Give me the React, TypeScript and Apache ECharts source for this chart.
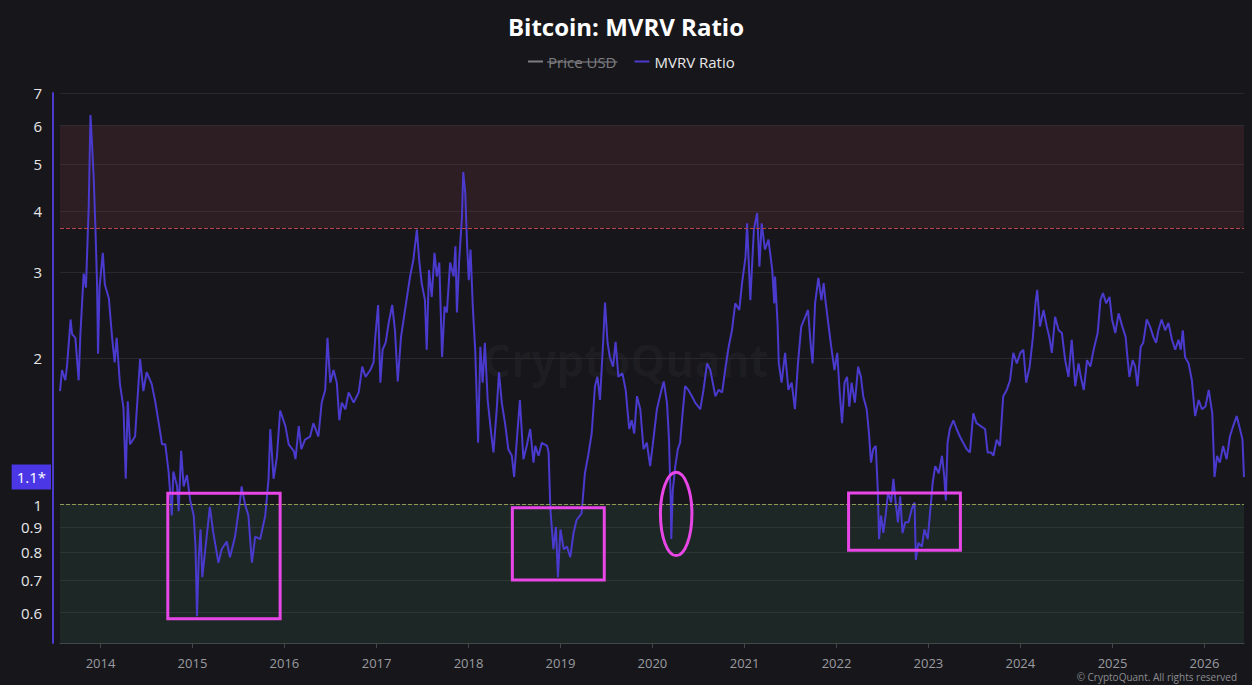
import { useEffect, useRef } from 'react';
import * as echarts from 'echarts';

type Point = [string, number];

// MVRV ratio, sampled roughly every two weeks, grouped by market cycle
const cycle2013: Point[] = [
  ['2013-07-24', 1.71], ['2013-08-01', 1.89], ['2013-08-14', 1.80], ['2013-08-21', 1.93],
  ['2013-09-04', 2.40], ['2013-09-10', 2.24], ['2013-09-23', 2.20], ['2013-10-06', 1.80],
  ['2013-10-13', 2.24], ['2013-10-26', 2.98], ['2013-11-04', 2.79], ['2013-11-15', 4.09],
  ['2013-11-22', 6.31], ['2013-11-28', 5.53], ['2013-12-05', 4.67], ['2013-12-12', 3.64],
  ['2013-12-18', 2.85], ['2013-12-22', 2.04], ['2013-12-28', 2.79], ['2014-01-10', 3.29],
  ['2014-01-18', 2.83], ['2014-02-03', 2.65], ['2014-02-16', 2.20], ['2014-02-26', 1.96],
  ['2014-03-06', 2.20], ['2014-03-19', 1.77], ['2014-04-02', 1.58], ['2014-04-11', 1.13],
  ['2014-04-19', 1.63], ['2014-04-28', 1.33], ['2014-05-18', 1.38], ['2014-06-07', 1.99],
  ['2014-06-20', 1.71], ['2014-07-03', 1.87], ['2014-07-23', 1.77], ['2014-08-06', 1.63],
  ['2014-08-22', 1.45], ['2014-09-02', 1.33], ['2014-09-15', 1.33], ['2014-09-28', 1.17],
  ['2014-10-11', 0.95], ['2014-10-17', 1.17], ['2014-11-01', 1.09], ['2014-11-07', 0.97],
  ['2014-11-17', 1.29], ['2014-11-27', 1.09], ['2014-12-10', 1.15], ['2014-12-23', 1.02],
  ['2015-01-06', 0.95], ['2015-01-13', 0.82], ['2015-01-19', 0.59], ['2015-01-26', 0.78],
  ['2015-02-02', 0.89], ['2015-02-09', 0.71], ['2015-02-21', 0.81], ['2015-03-11', 0.99],
  ['2015-03-24', 0.88], ['2015-04-14', 0.76], ['2015-04-27', 0.81], ['2015-05-17', 0.84],
  ['2015-05-30', 0.78], ['2015-06-19', 0.86], ['2015-07-09', 1.02], ['2015-07-15', 1.09],
  ['2015-07-29', 1.00], ['2015-08-11', 0.95], ['2015-08-25', 0.76], ['2015-09-07', 0.86],
  ['2015-09-27', 0.85], ['2015-10-17', 0.95], ['2015-10-30', 1.13], ['2015-11-06', 1.43],
  ['2015-11-19', 1.13], ['2015-12-02', 1.25], ['2015-12-15', 1.56], ['2016-01-05', 1.45],
  ['2016-01-18', 1.33], ['2016-02-07', 1.29],
];

const cycle2016: Point[] = [
  ['2016-02-14', 1.24], ['2016-02-27', 1.45], ['2016-03-08', 1.30], ['2016-03-23', 1.36],
  ['2016-04-12', 1.38], ['2016-04-25', 1.47], ['2016-05-15', 1.38], ['2016-05-28', 1.62],
  ['2016-06-11', 1.72], ['2016-06-20', 2.20], ['2016-07-01', 1.78], ['2016-07-14', 1.89],
  ['2016-07-27', 1.78], ['2016-08-06', 1.49], ['2016-08-16', 1.62], ['2016-08-30', 1.57],
  ['2016-09-12', 1.70], ['2016-10-02', 1.62], ['2016-10-22', 1.70], ['2016-11-05', 1.92],
  ['2016-11-18', 1.83], ['2016-12-07', 1.89], ['2016-12-20', 1.96], ['2016-12-27', 2.21],
  ['2017-01-07', 2.57], ['2017-01-16', 1.78], ['2017-01-25', 2.08], ['2017-02-06', 2.15],
  ['2017-02-18', 2.36], ['2017-03-04', 2.57], ['2017-03-15', 2.28], ['2017-03-26', 1.79],
  ['2017-04-08', 2.21], ['2017-04-24', 2.51], ['2017-05-14', 2.94], ['2017-05-27', 3.18],
  ['2017-06-10', 3.67], ['2017-06-19', 3.18], ['2017-06-29', 2.85], ['2017-07-12', 2.63],
  ['2017-07-19', 2.08], ['2017-07-28', 3.03], ['2017-08-08', 2.67], ['2017-08-19', 3.29],
  ['2017-08-28', 2.94], ['2017-09-07', 3.14], ['2017-09-18', 2.01], ['2017-09-28', 2.55],
  ['2017-10-07', 2.48], ['2017-10-20', 3.14], ['2017-11-03', 2.94], ['2017-11-10', 3.39],
  ['2017-11-16', 2.48], ['2017-11-25', 3.18], ['2017-12-06', 3.90], ['2017-12-11', 4.82],
  ['2017-12-19', 4.37], ['2017-12-26', 3.45], ['2018-01-02', 2.89], ['2018-01-09', 3.34],
  ['2018-01-18', 2.55], ['2018-01-28', 2.05], ['2018-02-08', 1.34], ['2018-02-17', 2.11],
  ['2018-02-26', 1.78], ['2018-03-07', 2.15], ['2018-03-18', 1.64], ['2018-04-01', 1.40],
  ['2018-04-10', 1.28], ['2018-04-23', 1.57], ['2018-05-02', 1.87], ['2018-05-13', 1.62],
  ['2018-05-26', 1.47], ['2018-06-08', 1.30], ['2018-06-22', 1.26], ['2018-07-01', 1.14],
  ['2018-07-11', 1.34], ['2018-07-24', 1.64], ['2018-08-07', 1.24], ['2018-08-20', 1.32],
  ['2018-09-03', 1.43], ['2018-09-16', 1.22],
];

const cycle2018: Point[] = [
  ['2018-09-23', 1.32], ['2018-10-06', 1.26], ['2018-10-19', 1.34], ['2018-11-09', 1.32],
  ['2018-11-15', 1.28], ['2018-11-22', 0.98], ['2018-12-04', 0.81], ['2018-12-14', 0.90],
  ['2018-12-22', 0.71], ['2019-01-01', 0.89], ['2019-01-14', 0.81], ['2019-01-27', 0.82],
  ['2019-02-09', 0.78], ['2019-02-22', 0.875], ['2019-03-06', 0.93], ['2019-03-26', 0.96],
  ['2019-04-08', 1.16], ['2019-04-21', 1.26], ['2019-05-05', 1.40], ['2019-05-18', 1.75],
  ['2019-05-28', 1.83], ['2019-06-07', 1.64], ['2019-06-20', 2.18], ['2019-06-27', 2.60],
  ['2019-07-07', 2.15], ['2019-07-16', 2.01], ['2019-07-29', 1.92], ['2019-08-08', 2.16],
  ['2019-08-19', 1.83], ['2019-09-04', 1.86], ['2019-09-17', 1.72], ['2019-10-01', 1.43],
  ['2019-10-11', 1.49], ['2019-10-21', 1.40], ['2019-11-01', 1.67], ['2019-11-14', 1.57],
  ['2019-11-27', 1.30], ['2019-12-10', 1.34], ['2019-12-23', 1.20], ['2020-01-02', 1.32],
  ['2020-01-19', 1.57], ['2020-02-06', 1.72], ['2020-02-15', 1.79], ['2020-02-28', 1.62],
  ['2020-03-07', 1.36], ['2020-03-14', 1.01], ['2020-03-16', 0.85], ['2020-03-22', 1.07],
  ['2020-04-01', 1.20], ['2020-04-11', 1.30], ['2020-04-20', 1.34], ['2020-04-29', 1.52],
  ['2020-05-10', 1.75], ['2020-05-23', 1.72], ['2020-06-06', 1.67], ['2020-06-19', 1.62],
  ['2020-07-09', 1.57], ['2020-07-22', 1.72], ['2020-08-05', 1.95], ['2020-08-18', 1.89],
  ['2020-09-07', 1.67], ['2020-09-20', 1.72], ['2020-10-04', 1.70], ['2020-10-16', 1.89],
  ['2020-10-30', 2.11], ['2020-11-12', 2.28], ['2020-11-25', 2.59], ['2020-12-11', 2.51],
  ['2020-12-22', 2.85], ['2021-01-05', 3.23], ['2021-01-11', 3.78], ['2021-01-24', 2.63],
  ['2021-02-07', 3.67], ['2021-02-20', 3.97], ['2021-03-01', 3.08], ['2021-03-10', 3.78],
  ['2021-03-23', 3.34], ['2021-04-06', 3.50], ['2021-04-21', 3.03], ['2021-04-29', 2.59],
];

const cycle2021: Point[] = [
  ['2021-05-02', 2.94], ['2021-05-12', 2.36], ['2021-05-17', 1.95], ['2021-05-28', 1.78],
  ['2021-06-11', 2.05], ['2021-06-24', 1.72], ['2021-07-07', 1.78], ['2021-07-20', 1.57],
  ['2021-08-01', 1.95], ['2021-08-14', 2.32], ['2021-08-30', 2.43], ['2021-09-10', 2.51],
  ['2021-09-19', 2.18], ['2021-09-28', 1.95], ['2021-10-08', 2.59], ['2021-10-21', 2.92],
  ['2021-11-02', 2.63], ['2021-11-11', 2.85], ['2021-11-18', 2.63], ['2021-12-01', 2.32],
  ['2021-12-11', 2.11], ['2021-12-24', 1.89], ['2022-01-04', 2.05], ['2022-01-13', 1.72],
  ['2022-01-23', 1.47], ['2022-02-02', 1.78], ['2022-02-12', 1.83], ['2022-02-21', 1.59],
  ['2022-03-02', 1.78], ['2022-03-15', 1.62], ['2022-03-28', 1.92], ['2022-04-08', 1.83],
  ['2022-04-17', 1.67], ['2022-05-01', 1.57], ['2022-05-10', 1.40], ['2022-05-18', 1.22],
  ['2022-05-27', 1.30], ['2022-06-06', 1.32], ['2022-06-14', 1.07], ['2022-06-19', 0.85],
  ['2022-06-27', 0.95], ['2022-07-06', 0.875], ['2022-07-15', 0.95], ['2022-07-25', 1.06],
  ['2022-08-06', 1.01], ['2022-08-15', 1.13], ['2022-08-24', 1.01], ['2022-09-02', 0.92],
  ['2022-09-11', 1.04], ['2022-09-20', 0.875], ['2022-10-01', 0.92], ['2022-10-14', 0.92],
  ['2022-10-27', 0.98], ['2022-11-07', 1.01], ['2022-11-12', 0.77], ['2022-11-22', 0.835],
  ['2022-12-06', 0.82], ['2022-12-16', 0.89], ['2022-12-29', 0.85], ['2023-01-09', 0.98],
  ['2023-01-18', 1.11], ['2023-01-28', 1.20], ['2023-02-11', 1.16], ['2023-02-24', 1.26],
  ['2023-03-05', 1.14], ['2023-03-11', 1.02], ['2023-03-18', 1.34], ['2023-03-27', 1.43],
  ['2023-04-10', 1.49], ['2023-04-23', 1.43], ['2023-05-06', 1.38], ['2023-05-19', 1.34],
  ['2023-06-02', 1.30], ['2023-06-15', 1.28], ['2023-06-28', 1.54], ['2023-07-11', 1.47],
  ['2023-07-28', 1.45], ['2023-08-14', 1.43], ['2023-08-24', 1.28], ['2023-09-07', 1.28],
  ['2023-09-16', 1.26], ['2023-09-29', 1.36], ['2023-10-12', 1.32], ['2023-10-25', 1.67],
  ['2023-11-08', 1.72], ['2023-11-21', 1.80], ['2023-12-04', 2.05],
];

const cycle2024: Point[] = [
  ['2023-12-18', 1.95], ['2024-01-01', 2.05], ['2024-01-13', 2.08], ['2024-01-24', 1.78],
  ['2024-02-07', 1.92], ['2024-02-20', 2.21], ['2024-03-01', 2.59], ['2024-03-08', 2.76],
  ['2024-03-19', 2.32], ['2024-04-02', 2.51], ['2024-04-15', 2.32], ['2024-04-25', 2.21],
  ['2024-05-05', 2.05], ['2024-05-18', 2.43], ['2024-06-01', 2.28], ['2024-06-14', 2.25],
  ['2024-06-27', 1.98], ['2024-07-10', 1.83], ['2024-07-23', 2.18], ['2024-08-06', 1.75],
  ['2024-08-19', 1.95], ['2024-08-28', 1.83], ['2024-09-09', 1.72], ['2024-09-22', 1.98],
  ['2024-10-05', 1.92], ['2024-10-18', 2.08], ['2024-11-03', 2.25], ['2024-11-14', 2.63],
  ['2024-11-24', 2.72], ['2024-12-07', 2.59], ['2024-12-20', 2.67], ['2024-12-30', 2.40],
  ['2025-01-12', 2.25], ['2025-01-25', 2.47], ['2025-02-09', 2.32], ['2025-02-22', 2.21],
  ['2025-03-01', 2.01], ['2025-03-09', 1.83], ['2025-03-22', 1.98], ['2025-04-01', 1.92],
  ['2025-04-10', 1.75], ['2025-04-23', 2.11], ['2025-05-03', 2.15], ['2025-05-17', 2.40],
  ['2025-05-30', 2.32], ['2025-06-12', 2.21], ['2025-06-23', 2.15], ['2025-07-02', 2.28],
  ['2025-07-15', 2.40], ['2025-07-29', 2.28], ['2025-08-11', 2.36], ['2025-08-25', 2.18],
  ['2025-09-07', 2.08], ['2025-09-20', 2.18], ['2025-09-29', 2.08], ['2025-10-07', 2.28],
  ['2025-10-16', 2.01], ['2025-10-30', 1.95], ['2025-11-12', 1.80], ['2025-11-25', 1.52],
  ['2025-12-09', 1.64], ['2025-12-22', 1.57], ['2026-01-05', 1.59], ['2026-01-18', 1.72],
  ['2026-02-01', 1.54], ['2026-02-10', 1.14], ['2026-02-20', 1.26], ['2026-03-03', 1.22],
  ['2026-03-16', 1.32], ['2026-03-30', 1.24], ['2026-04-12', 1.38], ['2026-04-25', 1.45],
  ['2026-05-09', 1.52], ['2026-05-22', 1.43], ['2026-06-01', 1.36], ['2026-06-07', 1.14],
];

// Price series is listed in the legend but switched off
const priceUsd: Point[] = [];

const ratioLabels = [0.6, 0.7, 0.8, 0.9, 1, 2, 3, 4, 5, 6, 7];
const ratioFloor = 0.52;
const ratioCeil = 7;
const rangeStart = '2013-07-24';
const rangeEnd = '2026-06-07';

// Valuation bands
const overheatedFrom = 3.7;
const overheatedTo = 6;
const undervaluedBelow = 1;

// Highlighted bottoms: [from, to, low, high]
const highlightBoxes: [string, string, number, number][] = [
  ['2014-09-25', '2015-12-15', 0.583, 1.055],
  ['2018-06-24', '2019-06-24', 0.7, 0.985],
  ['2022-02-18', '2023-05-08', 0.806, 1.057],
];
const highlightRings: [string, string, number, number][] = [
  ['2020-02-02', '2020-06-06', 0.786, 1.165],
];

const FONT = '"Open Sans", "Noto Sans", sans-serif';
const BG = '#17171b';
const LINE = '#4a3acd';
const MAGENTA = '#e846e6';
const DAY = 24 * 3600 * 1000;

function toTime(s: string): number {
  const [y, m, d] = s.split('-').map(Number);
  return new Date(y, m - 1, d).getTime();
}

function measure(text: string, font: string): number {
  const ctx = document.createElement('canvas').getContext('2d');
  if (!ctx) return text.length * 7.6;
  ctx.font = font;
  return ctx.measureText(text).width;
}

export default function App() {
  const ref = useRef<HTMLDivElement>(null);

  useEffect(() => {
    if (!ref.current) return;
    const chart = echarts.init(ref.current, null, { renderer: 'svg' });

    const mvrv = [...cycle2013, ...cycle2016, ...cycle2018, ...cycle2021, ...cycle2024];
    const lastRatio = mvrv[mvrv.length - 1][1];

    const legendLeft = 528;
    const legendIcon = 15;
    const legendFont = 15;
    const priceTextWidth = measure('Price USD', `${legendFont}px ${FONT}`);
    const strikeX0 = legendLeft + legendIcon + 5;

    const boxRender = (ring: boolean) => (_params: any, api: any) => {
      const a = api.coord([api.value(0), api.value(3)]);
      const b = api.coord([api.value(1), api.value(2)]);
      const style = { fill: 'transparent', stroke: MAGENTA, lineWidth: 3 };
      if (ring) {
        return {
          type: 'ellipse',
          shape: {
            cx: (a[0] + b[0]) / 2,
            cy: (a[1] + b[1]) / 2,
            rx: Math.abs(b[0] - a[0]) / 2,
            ry: Math.abs(b[1] - a[1]) / 2,
          },
          style,
        };
      }
      return { type: 'rect', shape: { x: a[0], y: a[1], width: b[0] - a[0], height: b[1] - a[1] }, style };
    };

    const boxData = (rows: [string, string, number, number][]) =>
      rows.map(([from, to, low, high]) => [toTime(from), toTime(to), low, high]);

    chart.setOption({
      animation: false,
      backgroundColor: BG,
      textStyle: { fontFamily: FONT },
      title: {
        text: 'Bitcoin: MVRV Ratio',
        left: 'center',
        top: 14,
        padding: 0,
        textStyle: { color: '#ffffff', fontSize: 24, fontWeight: 'bold', fontFamily: FONT },
      },
      legend: {
        left: legendLeft,
        top: 54,
        padding: 0,
        itemGap: 18,
        itemWidth: legendIcon,
        itemHeight: 2,
        icon: 'rect',
        inactiveColor: '#7d7d82',
        textStyle: { color: '#e8e8ea', fontSize: legendFont, fontFamily: FONT },
        data: ['Price USD', 'MVRV Ratio'],
        selected: { 'Price USD': false, 'MVRV Ratio': true },
      },
      grid: { left: 60, right: 8, top: 93, bottom: 42, containLabel: false, outerBoundsMode: 'none' },
      xAxis: {
        type: 'time',
        min: toTime(rangeStart),
        max: toTime(rangeEnd),
        splitNumber: 13,
        minInterval: 365 * DAY,
        maxInterval: 366 * DAY,
        axisLine: { show: true, lineStyle: { color: '#41464b', width: 1 } },
        axisTick: { show: true, length: 5, lineStyle: { color: '#41464b' } },
        axisLabel: {
          formatter: (v: number) => {
            const d = new Date(v);
            return d.getMonth() === 0 && d.getDate() === 1 ? String(d.getFullYear()) : '';
          },
          showMinLabel: false,
          showMaxLabel: false,
          color: '#9b9ba0',
          fontSize: 13,
          margin: 13,
          fontFamily: FONT,
        },
        splitLine: { show: false },
      },
      yAxis: {
        type: 'log',
        logBase: 10,
        min: ratioFloor,
        max: ratioCeil,
        offset: 7,
        axisLine: { show: true, lineStyle: { color: LINE, width: 2 } },
        axisTick: { show: false, customValues: ratioLabels },
        axisLabel: {
          customValues: ratioLabels,
          formatter: (v: number) => String(Math.round(v * 10) / 10),
          color: '#e6e6e8',
          fontSize: 15,
          margin: 11,
          fontFamily: FONT,
        },
        splitLine: { show: true, lineStyle: { color: '#28282e', width: 1 } },
      },
      series: [
        {
          name: 'Price USD',
          type: 'line',
          data: priceUsd.map(([d, v]) => [toTime(d), v]),
          showSymbol: false,
          itemStyle: { color: '#9a9aa0' },
          lineStyle: { color: '#9a9aa0' },
        },
        {
          name: 'MVRV Ratio',
          type: 'line',
          z: 3,
          data: mvrv.map(([d, v]) => [toTime(d), v]),
          showSymbol: false,
          symbol: 'none',
          itemStyle: { color: LINE },
          lineStyle: { color: LINE, width: 2 },
          markArea: {
            silent: true,
            data: [
              [{ yAxis: overheatedFrom, itemStyle: { color: 'rgba(134,59,68,0.2)' } }, { yAxis: overheatedTo }],
              [{ yAxis: ratioFloor, itemStyle: { color: 'rgba(54,109,83,0.2)' } }, { yAxis: undervaluedBelow }],
            ],
          },
          markLine: {
            silent: true,
            symbol: 'none',
            data: [
              {
                yAxis: undervaluedBelow,
                lineStyle: { color: '#8f9a52', type: 'dashed', width: 1 },
                label: { show: false },
              },
              {
                yAxis: overheatedFrom,
                lineStyle: { color: '#b9434b', type: 'dashed', width: 1 },
                label: { show: false },
              },
            ],
          },
        },
        {
          // Badge with the latest reading, pinned to the left of the value axis
          name: 'latest',
          type: 'line',
          data: [],
          silent: true,
          markLine: {
            silent: true,
            symbol: 'none',
            lineStyle: { color: 'rgba(0,0,0,0)', width: 0 },
            label: {
              show: true,
              position: 'start',
              distance: 9,
              formatter: (p: any) => `${Number(p.value).toFixed(1)}*`,
              backgroundColor: '#4b37e6',
              color: '#ffffff',
              fontSize: 15,
              fontFamily: FONT,
              padding: [5, 5, 5, 5],
            },
            data: [{ yAxis: lastRatio }],
          },
        },
        {
          name: 'highlight-box',
          type: 'custom',
          z: 5,
          silent: true,
          clip: false,
          encode: { x: [0, 1], y: [2, 3] },
          data: boxData(highlightBoxes),
          renderItem: boxRender(false),
        },
        {
          name: 'highlight-ring',
          type: 'custom',
          z: 5,
          silent: true,
          clip: false,
          encode: { x: [0, 1], y: [2, 3] },
          data: boxData(highlightRings),
          renderItem: boxRender(true),
        },
      ],
      graphic: [
        {
          type: 'text',
          left: 'center',
          top: 338,
          silent: true,
          z: -1,
          style: {
            text: 'CryptoQuant',
            fill: 'rgba(255,255,255,0.03)',
            fontSize: 44,
            fontWeight: 'bold',
            fontFamily: FONT,
          },
        },
        {
          type: 'line',
          silent: true,
          shape: { x1: strikeX0 - 1, y1: 62, x2: strikeX0 + priceTextWidth + 1, y2: 62 },
          style: { stroke: '#8a8a8f', lineWidth: 1 },
        },
        {
          type: 'text',
          silent: true,
          x: 1237,
          y: 672,
          style: {
            text: '© CryptoQuant. All rights reserved',
            fill: '#8c8c90',
            fontSize: 10,
            fontFamily: FONT,
            align: 'right',
            verticalAlign: 'top',
          },
        },
      ],
    });

    return () => chart.dispose();
  }, []);

  return (
    <div
      ref={ref}
      style={{ position: 'fixed', left: 0, top: 0, width: 1252, height: 685, background: BG }}
    />
  );
}
